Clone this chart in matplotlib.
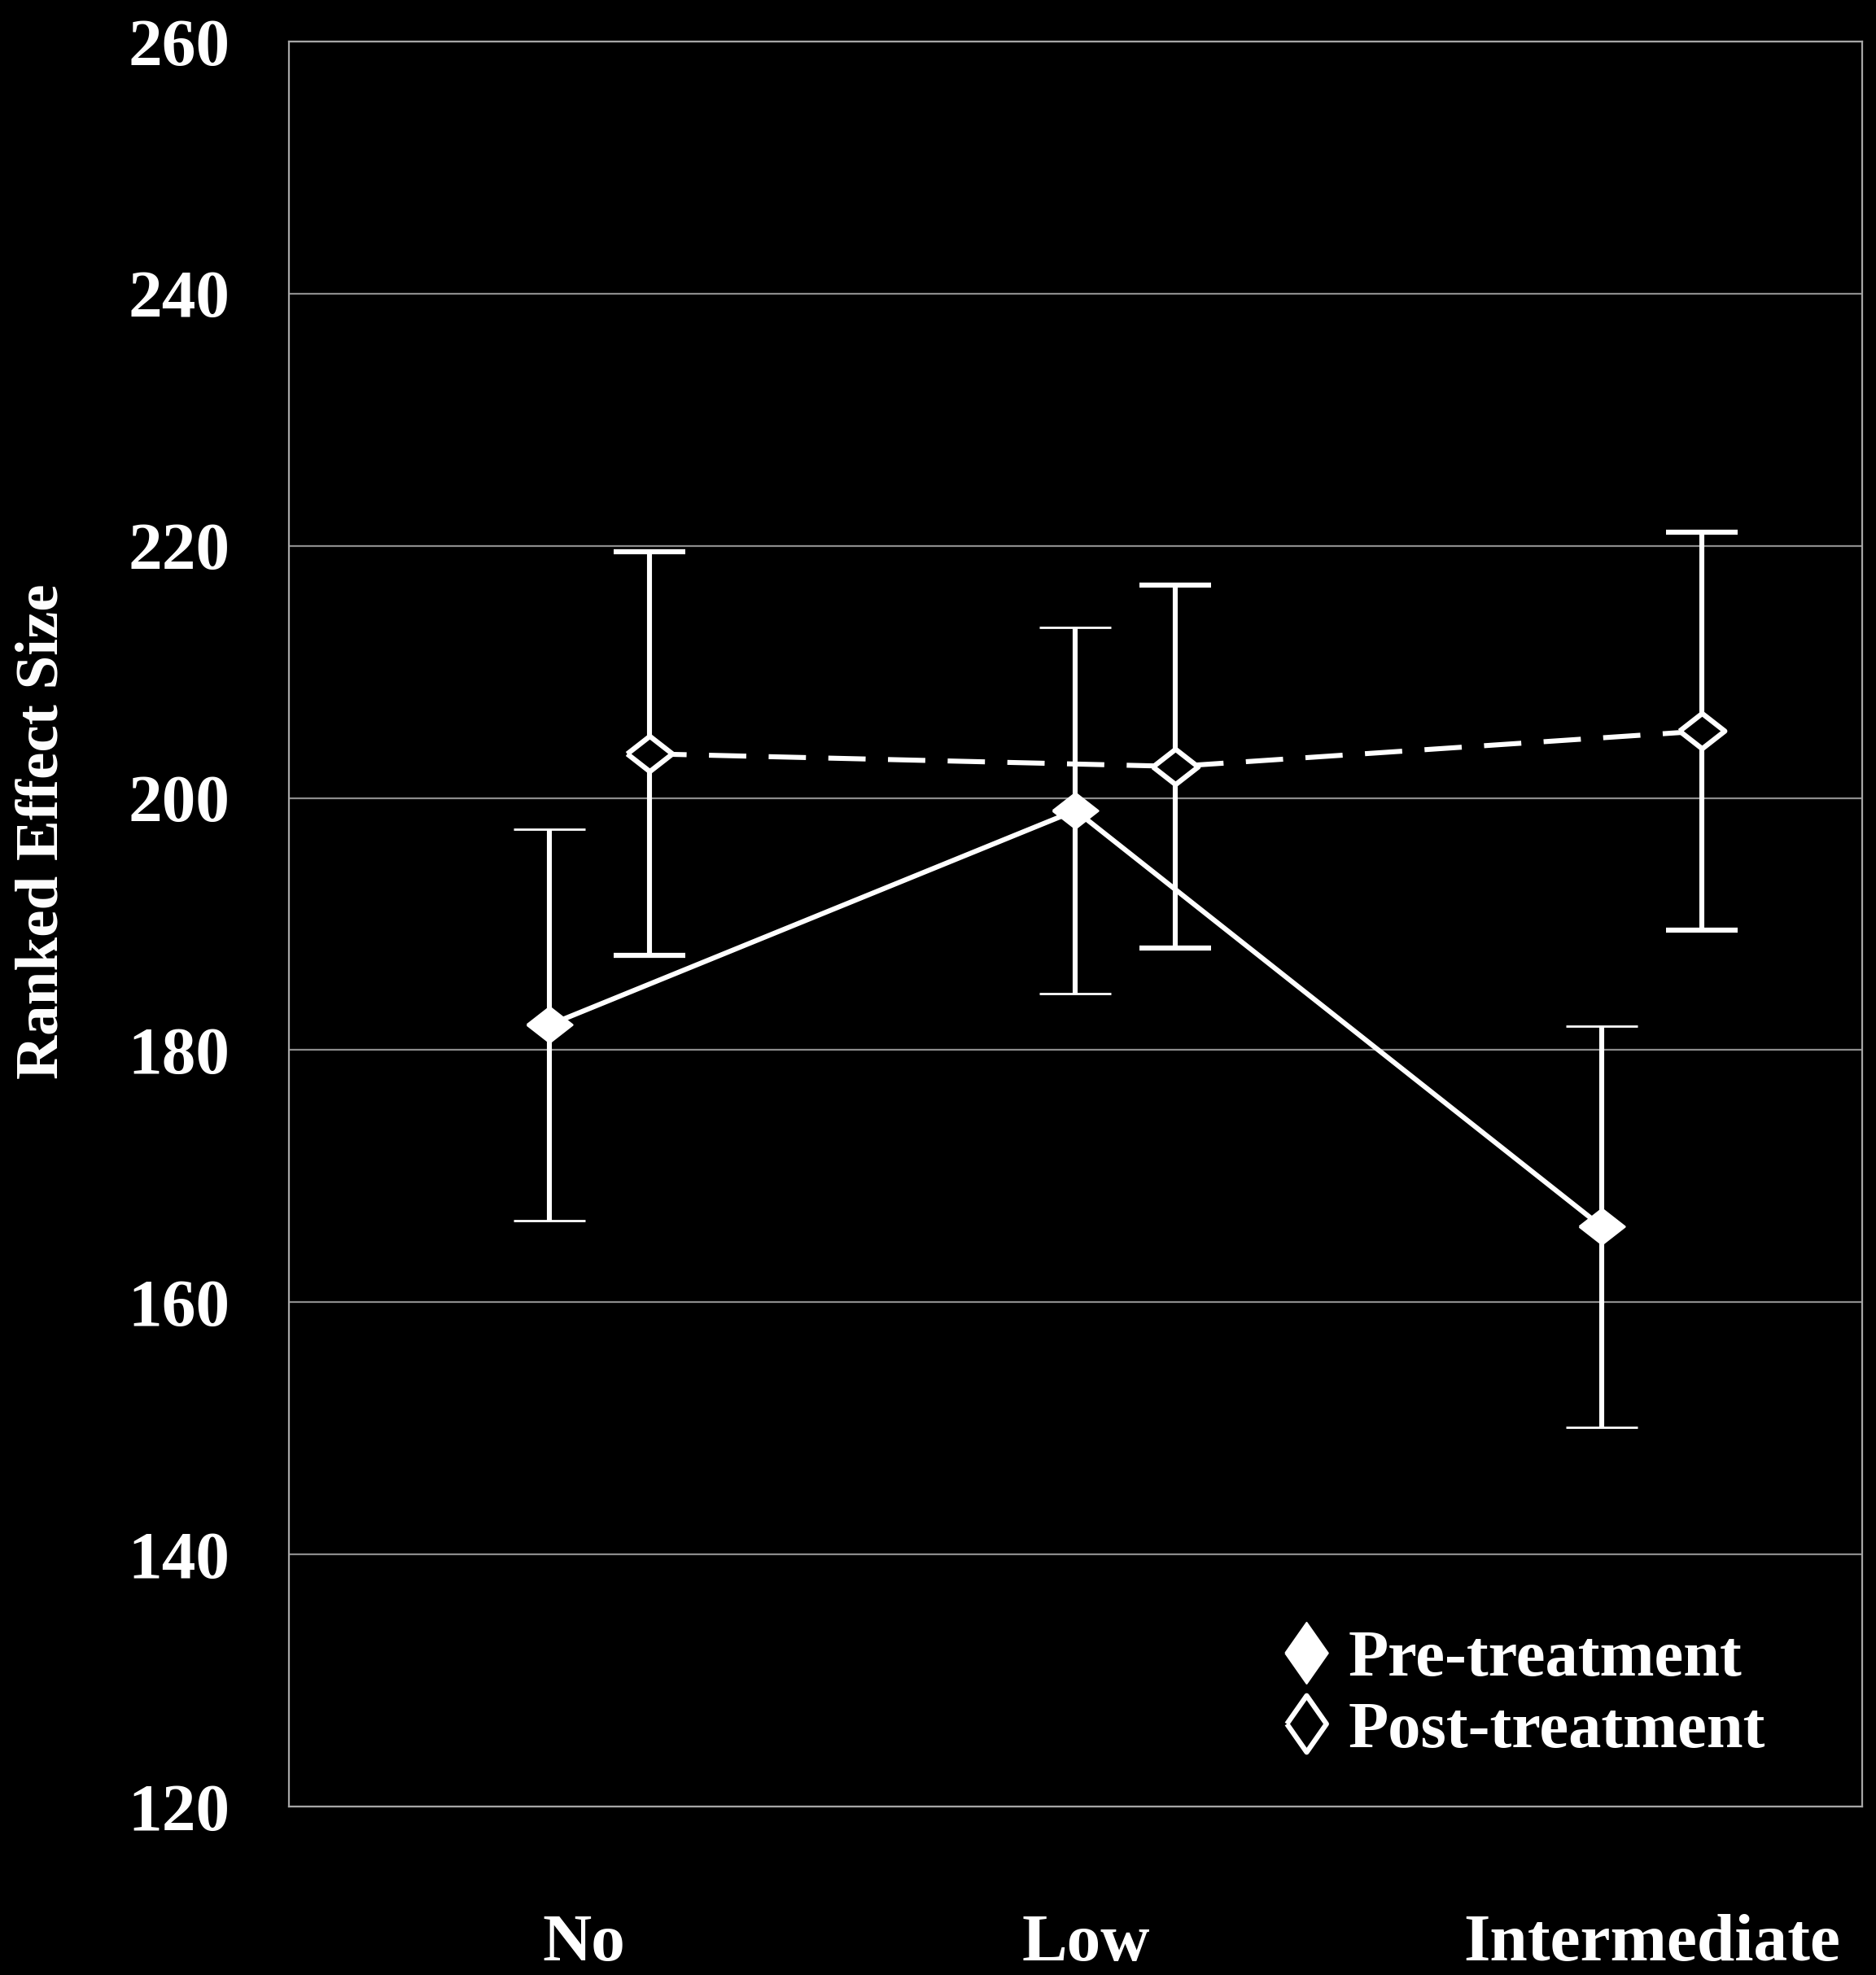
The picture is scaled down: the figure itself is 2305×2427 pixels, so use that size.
import numpy as np
import matplotlib
matplotlib.use("Agg")
import matplotlib.pyplot as plt
from matplotlib.lines import Line2D

# Ranked effect size by level, before and after treatment
categories = ["No", "Low", "Intermediate"]
pre_mean = [182.0, 199.0, 166.0]
pre_err = [15.5, 14.5, 15.9]
post_mean = [203.5, 202.5, 205.3]
post_err = [16.0, 14.4, 15.8]
y_ticks = [120, 140, 160, 180, 200, 220, 240, 260]

plt.rcParams["font.family"] = ["Liberation Serif", "DejaVu Serif"]
plt.rcParams["font.weight"] = "bold"

# diamond shapes (slightly wider than tall in the plot, taller in the key)
wide_diamond = [(-1, 0), (0, 0.78), (1, 0), (0, -0.78), (-1, 0)]
tall_diamond = [(-0.7, 0), (0, 1), (0.7, 0), (0, -1), (-0.7, 0)]


def main():
    fig = plt.figure(figsize=(23.05, 24.27), dpi=100, facecolor="black")
    ax = fig.add_axes([0.154, 0.0853, 0.8386, 0.8937])
    ax.set_facecolor("black")

    x = np.arange(len(categories))
    shift = 0.095
    lw = 4.4

    # pre-treatment: solid line, filled diamonds
    ax.errorbar(x - shift, pre_mean, yerr=pre_err, color="white", lw=lw,
                marker=wide_diamond, ms=40, mfc="white", mec="white", mew=2,
                capsize=32, capthick=lw, elinewidth=lw, zorder=3)

    # post-treatment: dashed line, open diamonds
    eb = ax.errorbar(x + shift, post_mean, yerr=post_err, color="white", lw=lw,
                     marker=wide_diamond, ms=40, mfc="black", mec="white", mew=4.5,
                     capsize=32, capthick=lw, elinewidth=lw, zorder=3)
    eb[0].set_linestyle((0, (7.5, 4.5)))

    ax.set_xlim(-0.59, 2.40)
    ax.set_ylim(120, 260)
    ax.set_yticks(y_ticks)
    # category labels sit a little off the group centres
    ax.set_xticks(x + np.array([-0.03, -0.075, 0.0]))
    ax.set_xticklabels(categories)

    ax.grid(axis="y", color="#8c8c8c", lw=1.6, zorder=0)
    ax.grid(axis="x", visible=False)
    for s in ax.spines.values():
        s.set_color("#a6a6a6")
        s.set_linewidth(1.6)

    ax.tick_params(axis="y", length=0, pad=52, labelsize=60, colors="white")
    ax.tick_params(axis="x", length=0, pad=95, labelsize=60, colors="white")

    fig.text(0.0226, 0.579, "Ranked Effect Size", rotation=90, color="white",
             fontsize=54, fontweight="bold", ha="center", va="center")

    handles = [
        Line2D([], [], ls="none", marker=tall_diamond, ms=54,
               mfc="white", mec="white", mew=1.5, label="Pre-treatment"),
        Line2D([], [], ls="none", marker=tall_diamond, ms=50,
               mfc="black", mec="white", mew=4.5, label="Post-treatment"),
    ]
    ax.legend(handles=handles, loc="upper left", bbox_to_anchor=(0.634, 0.100),
              frameon=False, fontsize=58, labelcolor="white", handlelength=0.6,
              handletextpad=0.35, labelspacing=0.17, borderpad=0, borderaxespad=0)

    fig.savefig("out.png", dpi=100, facecolor="black")


if __name__ == "__main__":
    main()
